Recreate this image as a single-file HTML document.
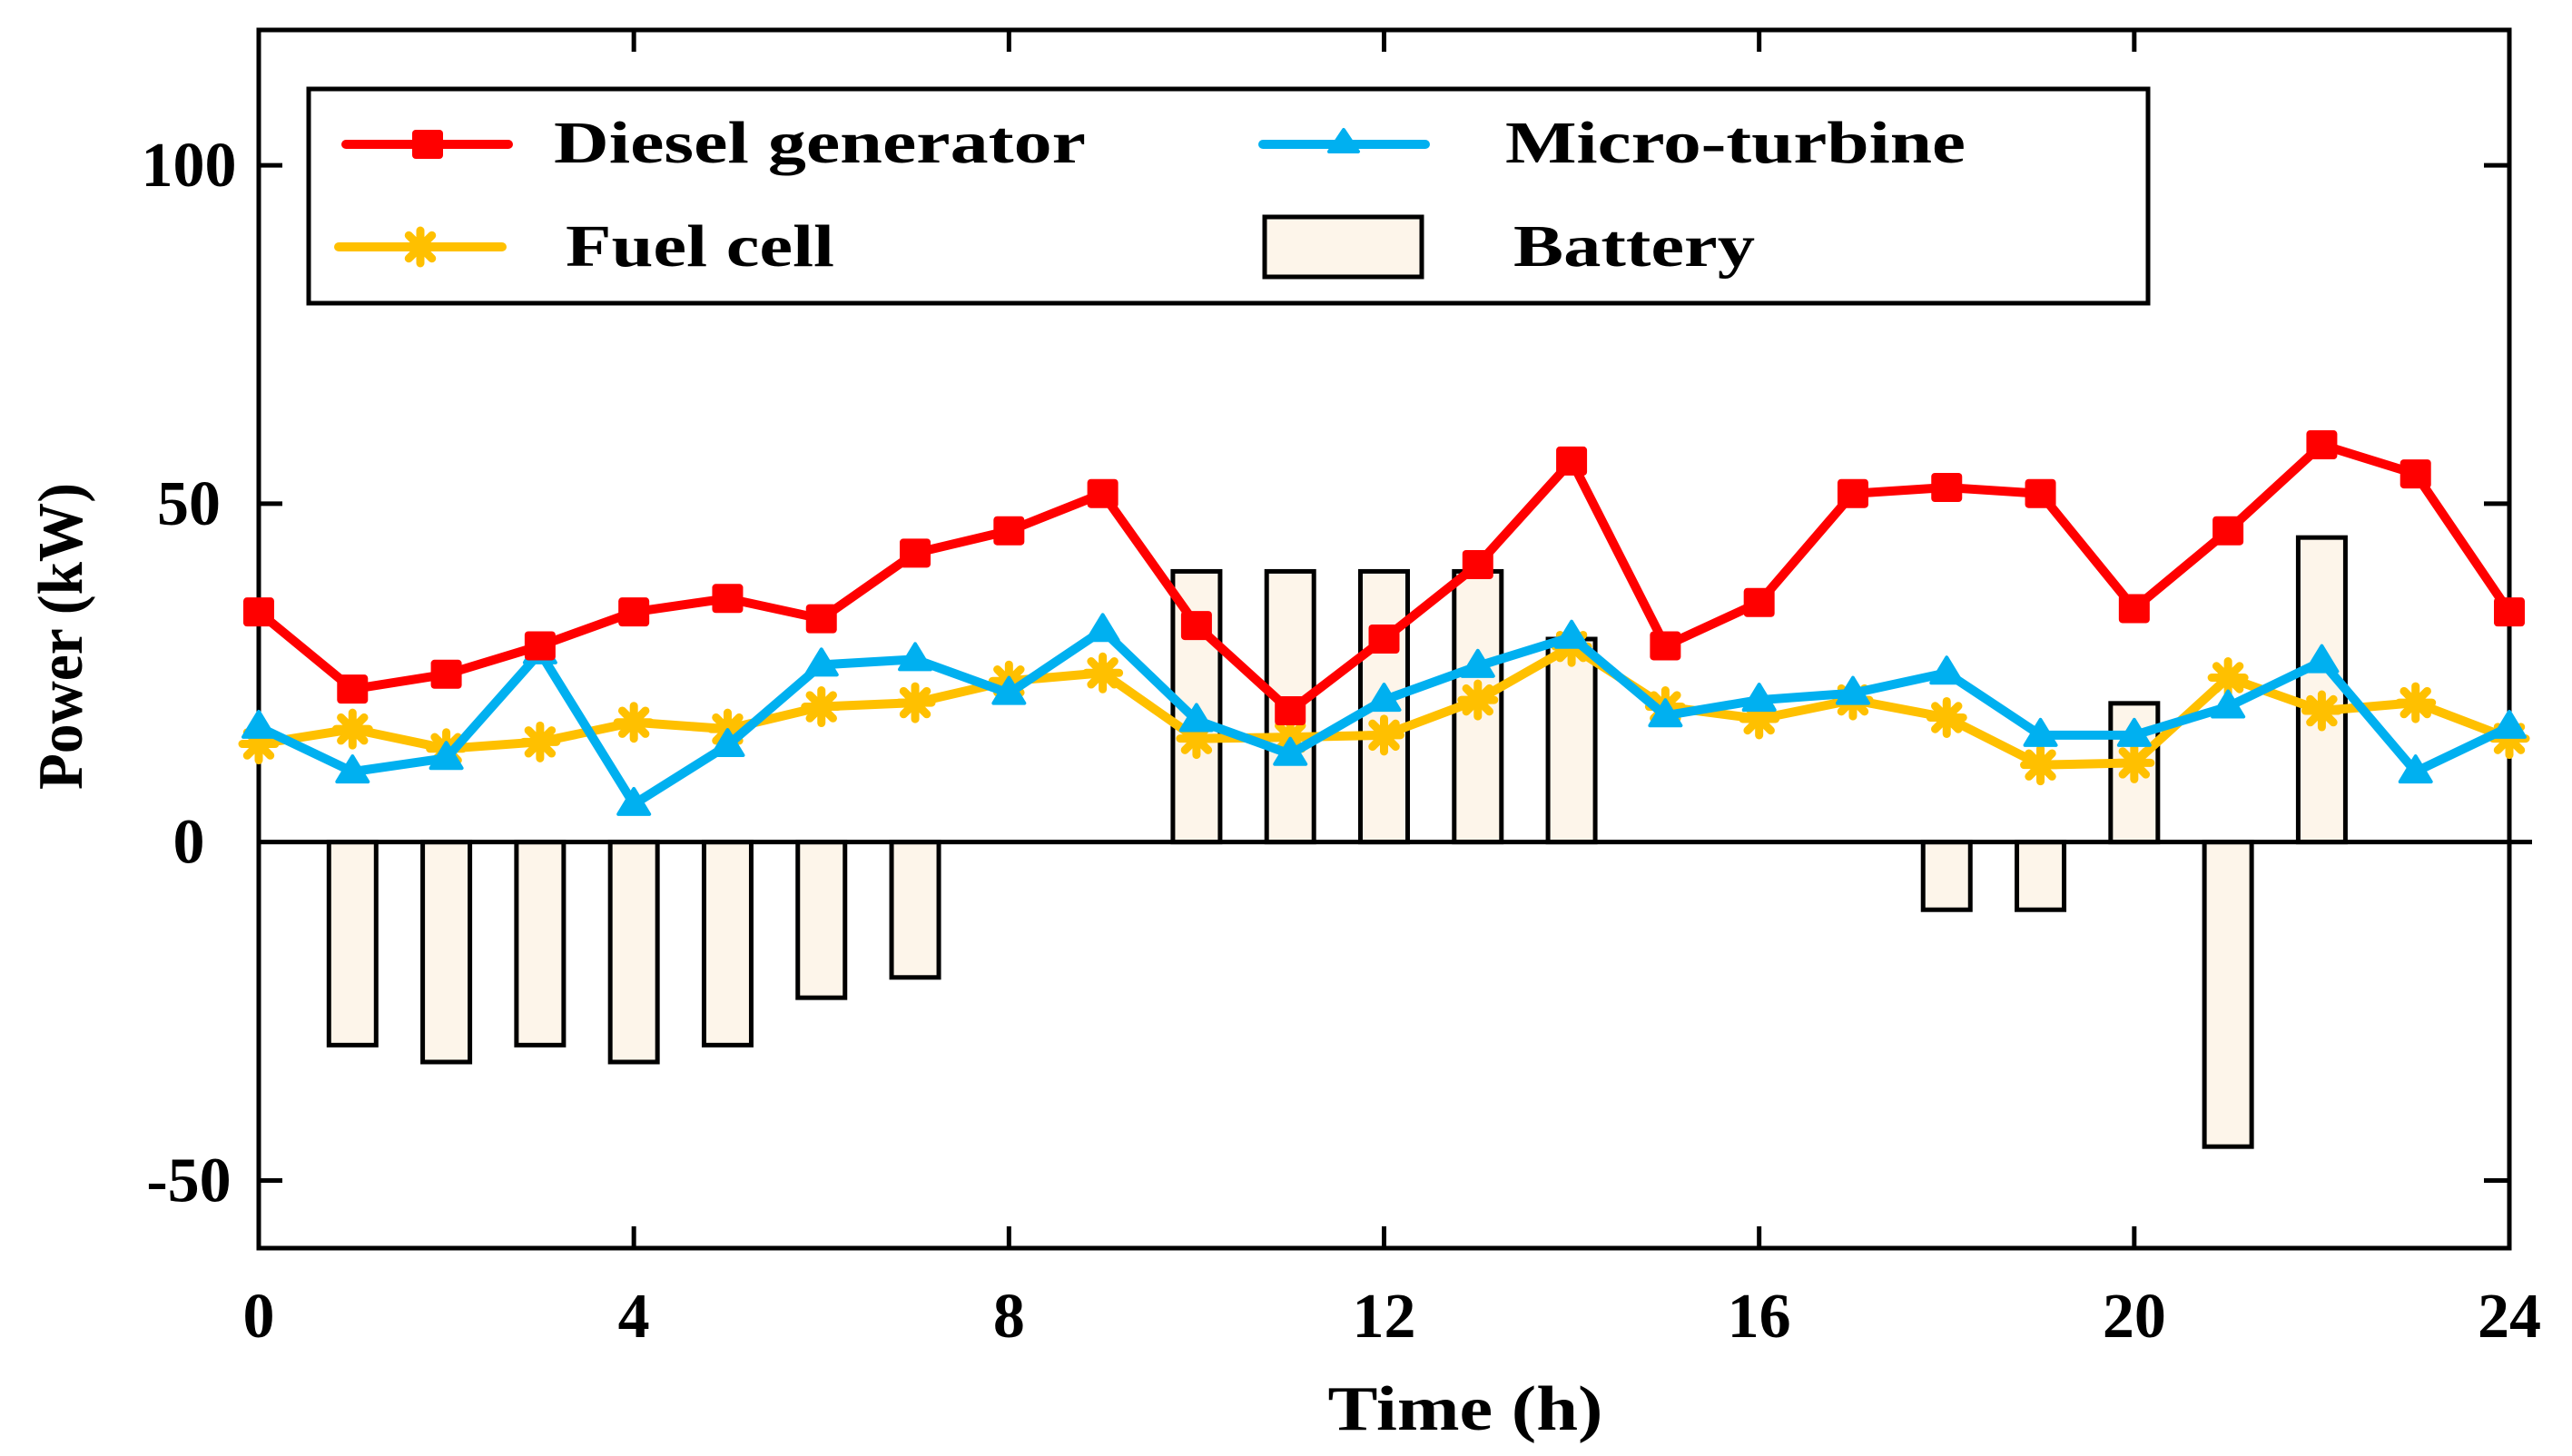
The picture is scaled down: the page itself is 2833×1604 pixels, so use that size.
<!DOCTYPE html>
<html><head><meta charset="utf-8">
<style>
html,body{margin:0;padding:0;background:#fff;}
svg{display:block;}
text{font-family:"Liberation Serif",serif;font-weight:bold;fill:#000;}
</style></head>
<body>
<svg id="chart" width="2833" height="1604" viewBox="0 0 2833 1604" xmlns="http://www.w3.org/2000/svg">
  <g id="bars"></g>
  <g id="axes"></g>
  <g id="series"></g>
  <g id="legend">
    <rect x="340" y="98" width="2026" height="236" fill="#fff" stroke="#000" stroke-width="5"/>
    <g>
      <line x1="381" y1="159" x2="560" y2="159" stroke="#ff0000" stroke-width="10" stroke-linecap="round"/>
      <rect x="454" y="143" width="34" height="32" rx="4" fill="#ff0000"/>
      <text x="610" y="179" font-size="66" textLength="586" lengthAdjust="spacingAndGlyphs">Diesel generator</text>
    </g>
    <g>
      <line x1="373" y1="272" x2="553" y2="272" stroke="#ffc000" stroke-width="10" stroke-linecap="round"/>
      <g id="legendStar"></g>
      <text x="623" y="293" font-size="66" textLength="296" lengthAdjust="spacingAndGlyphs">Fuel cell</text>
    </g>
    <g>
      <line x1="1391" y1="159" x2="1570" y2="159" stroke="#00b0f0" stroke-width="10" stroke-linecap="round"/>
      <polygon points="1480,143 1496,167 1464,167" fill="#00b0f0" stroke="#00b0f0" stroke-width="4" stroke-linejoin="round"/>
      <text x="1658" y="179" font-size="66" textLength="507" lengthAdjust="spacingAndGlyphs">Micro-turbine</text>
    </g>
    <g>
      <rect x="1393" y="239" width="173" height="66" fill="#fdf5ea" stroke="#000" stroke-width="5"/>
      <text x="1667" y="293" font-size="66" textLength="266" lengthAdjust="spacingAndGlyphs">Battery</text>
    </g>
  </g>
  <text transform="translate(90,701) rotate(-90)" text-anchor="middle" font-size="70" textLength="338" lengthAdjust="spacingAndGlyphs">Power (kW)</text>
  <text x="1614" y="1575" text-anchor="middle" font-size="70" textLength="303" lengthAdjust="spacingAndGlyphs">Time (h)</text>
</svg>
<script>
const hours = [0,1,2,3,4,5,6,7,8,9,10,11,12,13,14,15,16,17,18,19,20,21,22,23,24];
const dieselValues = [34,22.6,24.8,29,34,36,33,42.7,46,51.5,32,19.4,30,41,56.3,29,35.4,51.5,52.4,51.5,34.5,46,58.7,54.4,34];
const microValues = [17,10.4,12.4,28,5.6,14.3,26.2,27,22,31.3,18,13,21,26,30.3,18.7,21,22,25,15.8,15.8,20,26.7,10.4,17];
const fuelValues = [14.5,16.7,13.8,14.8,17.7,16.7,20,20.6,23.8,25,15.3,15.5,15.8,21,28.9,20,18.2,21,18.4,11.4,11.7,24.3,19.4,20.6,15.3];
const batteryHours = [1,2,3,4,5,6,7,10,11,12,13,14,18,19,20,21,22];
const batteryValues = [-30,-32.5,-30,-32.5,-30,-23,-20,40,40,40,40,30,-10,-10,20.5,-45,45];
const xTicks = [0,4,8,12,16,20,24];
const yTicks = [-50,0,50,100];

const NS = "http://www.w3.org/2000/svg";
const L=285,R=2764,T=33,B=1375;
const xMin=0,xMax=24,yMin=-60,yMax=120;
function xs(v){return L+(v-xMin)/(xMax-xMin)*(R-L);}
function ys(v){return B-(v-yMin)/(yMax-yMin)*(B-T);}
function mk(tag,attrs,parent){const e=document.createElementNS(NS,tag);for(const k in attrs)e.setAttribute(k,attrs[k]);parent.appendChild(e);return e;}

const bars=document.getElementById('bars');
batteryValues.forEach((v,i)=>{
  const x=xs(batteryHours[i]),y0=ys(0),y1=ys(v);
  const r=mk('rect',{x:x-26,y:Math.min(y0,y1),width:52,height:Math.abs(y1-y0),fill:'#fdf5ea',stroke:'#000','stroke-width':5},bars);
  
  
});

const axes=document.getElementById('axes');
const frame=mk('rect',{x:L,y:T,width:R-L,height:B-T,fill:'none',stroke:'#000','stroke-width':5},axes);


const zl=mk('line',{x1:L,y1:ys(0),x2:R+25,y2:ys(0),stroke:'#000','stroke-width':5},axes);


xTicks.forEach(t=>{
  const x=xs(t);
  if(t!==xMin&&t!==xMax){
    mk('line',{x1:x,y1:B,x2:x,y2:B-24,stroke:'#000','stroke-width':5},axes);
    mk('line',{x1:x,y1:T,x2:x,y2:T+24,stroke:'#000','stroke-width':5},axes);
  }
  const tx=mk('text',{x:x,y:1473,'text-anchor':'middle','font-size':70},axes);
  tx.textContent=String(t);
  
  
});
yTicks.forEach(t=>{
  const y=ys(t);
  if(t!==0){
    mk('line',{x1:L,y1:y,x2:L+26,y2:y,stroke:'#000','stroke-width':5},axes);
    mk('line',{x1:R,y1:y,x2:R-28,y2:y,stroke:'#000','stroke-width':5},axes);
  }
  const tx=mk('text',{x:208,y:y+23,'text-anchor':'middle','font-size':70},axes);
  tx.textContent=String(t);
  
  
});

function star(g,cx,cy,color){
  for(let k=0;k<4;k++){
    const a=k*Math.PI/4;
    mk('line',{x1:cx-18*Math.cos(a),y1:cy-18*Math.sin(a),x2:cx+18*Math.cos(a),y2:cy+18*Math.sin(a),stroke:color,'stroke-width':9,'stroke-linecap':'round'},g);
  }
  mk('circle',{cx:cx,cy:cy,r:9,fill:color},g);
}
star(document.getElementById('legendStar'),463,272,'#ffc000');

const series=document.getElementById('series');
function drawSeries(vals,color,name,marker){
  const g=mk('g',{},series);
  
  
  const pts=vals.map((v,i)=>xs(hours[i])+','+ys(v)).join(' ');
  mk('polyline',{points:pts,fill:'none',stroke:color,'stroke-width':10,'stroke-linejoin':'round','stroke-linecap':'round'},g);
  vals.forEach((v,i)=>{
    const x=xs(hours[i]),y=ys(v);
    if(marker==='square'){const m=mk('rect',{x:x-17,y:y-16,width:34,height:32,rx:4,fill:color},g);}
    else if(marker==='tri'){const m=mk('polygon',{points:`${x},${y-17} ${x+17},${y+11} ${x-17},${y+11}`,fill:color,stroke:color,'stroke-width':4,'stroke-linejoin':'round'},g);}
    else {star(g,x,y,color);}
  });
}
drawSeries(fuelValues,'#ffc000','fuel-cell-series','star');
drawSeries(microValues,'#00b0f0','micro-turbine-series','tri');
drawSeries(dieselValues,'#ff0000','diesel-series','square');
</script>
</body></html>
